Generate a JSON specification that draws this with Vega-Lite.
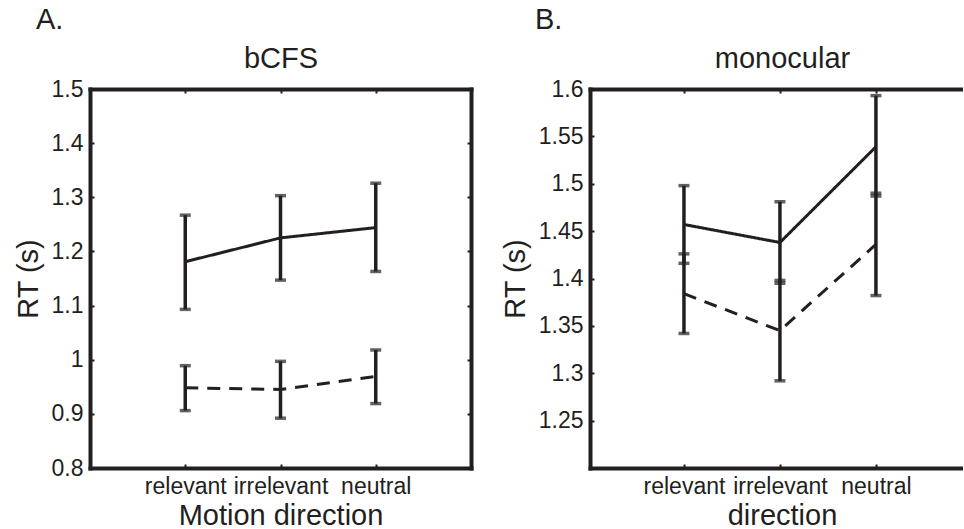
{
  "$schema": "https://vega.github.io/schema/vega-lite/v6.json",
  "padding": {"left": 14, "top": 6, "right": 0, "bottom": 0},
  "spacing": 29,
  "config": {
    "font": "Liberation Sans",
    "view": {"stroke": null},
    "axis": {
      "domainColor": "#231f20", "domainWidth": 4, "domainCap": "square",
      "tickColor": "#231f20", "tickSize": -4, "tickWidth": 2,
      "labelColor": "#231f20", "labelFontSize": 23, "labelPadding": 11,
      "labelOverlap": false, "labelBound": false, "labelAngle": 0,
      "titleColor": "#231f20", "titleFontSize": 29, "titleFontWeight": "normal",
      "grid": false
    },
    "title": {"fontSize": 29, "fontWeight": "normal", "color": "#231f20", "anchor": "start", "frame": "group"}
  },
  "datasets": {
    "rt": [
      {"panel": "bCFS", "series": "condition 1", "direction": "relevant", "mean": 1.181, "lo": 1.093, "hi": 1.267},
      {"panel": "bCFS", "series": "condition 1", "direction": "irrelevant", "mean": 1.225, "lo": 1.147, "hi": 1.303},
      {"panel": "bCFS", "series": "condition 1", "direction": "neutral", "mean": 1.244, "lo": 1.163, "hi": 1.326},
      {"panel": "bCFS", "series": "condition 2", "direction": "relevant", "mean": 0.948, "lo": 0.906, "hi": 0.989},
      {"panel": "bCFS", "series": "condition 2", "direction": "irrelevant", "mean": 0.945, "lo": 0.892, "hi": 0.997},
      {"panel": "bCFS", "series": "condition 2", "direction": "neutral", "mean": 0.969, "lo": 0.919, "hi": 1.018},
      {"panel": "monocular", "series": "condition 1", "direction": "relevant", "mean": 1.457, "lo": 1.416, "hi": 1.498},
      {"panel": "monocular", "series": "condition 1", "direction": "irrelevant", "mean": 1.438, "lo": 1.395, "hi": 1.481},
      {"panel": "monocular", "series": "condition 1", "direction": "neutral", "mean": 1.539, "lo": 1.487, "hi": 1.593},
      {"panel": "monocular", "series": "condition 2", "direction": "relevant", "mean": 1.384, "lo": 1.342, "hi": 1.426},
      {"panel": "monocular", "series": "condition 2", "direction": "irrelevant", "mean": 1.345, "lo": 1.292, "hi": 1.398},
      {"panel": "monocular", "series": "condition 2", "direction": "neutral", "mean": 1.436, "lo": 1.382, "hi": 1.49}
    ]
  },
  "hconcat": [
    {
      "width": 381, "height": 379,
      "title": {"text": "A.", "dx": -54, "offset": 9},
      "data": {"name": "rt"},
      "transform": [{"filter": "datum.panel == 'bCFS'"}],
      "resolve": {"axis": {"x": "independent", "y": "independent"}},
      "layer": [
        {
          "mark": {"type": "rule", "strokeWidth": 3.5, "color": "#231f20"},
          "encoding": {
            "x": {"field": "direction", "type": "nominal",
                  "scale": {"type": "point", "padding": 1, "domain": ["relevant", "irrelevant", "neutral"]},
                  "axis": {"orient": "bottom", "title": "Motion direction", "titlePadding": 3}},
            "y": {"field": "lo", "type": "quantitative",
                  "scale": {"domain": [0.8, 1.5], "nice": false, "zero": false},
                  "axis": {"orient": "left", "title": "RT (s)", "values": [0.8, 0.9, 1, 1.1, 1.2, 1.3, 1.4, 1.5], "format": ".1~f", "titlePadding": 8}},
            "y2": {"field": "hi"},
            "detail": {"field": "series"}
          }
        },
        {
          "mark": {"type": "tick", "size": 11, "thickness": 3.5, "color": "#231f20"},
          "encoding": {
            "x": {"field": "direction", "type": "nominal", "axis": null},
            "y": {"field": "lo", "type": "quantitative", "axis": null}
          }
        },
        {
          "mark": {"type": "tick", "size": 11, "thickness": 3.5, "color": "#231f20"},
          "encoding": {
            "x": {"field": "direction", "type": "nominal", "axis": null},
            "y": {"field": "hi", "type": "quantitative", "axis": null}
          }
        },
        {
          "mark": {"type": "line", "strokeWidth": 3, "color": "#231f20"},
          "encoding": {
            "x": {"field": "direction", "type": "nominal",
                  "axis": {"orient": "top", "title": "bCFS", "labels": false, "titlePadding": 15}},
            "y": {"field": "mean", "type": "quantitative",
                  "axis": {"orient": "right", "title": null, "labels": false, "values": [0.8, 0.9, 1, 1.1, 1.2, 1.3, 1.4, 1.5]}},
            "strokeDash": {"field": "series", "type": "nominal", "scale": {"domain": ["condition 1", "condition 2"], "range": [[1, 0], [13, 9]]}, "legend": null},
            "order": {"value": null}
          }
        }
      ]
    },
    {
      "width": 373, "height": 379,
      "title": {"text": "B.", "dx": -55, "offset": 9},
      "data": {"name": "rt"},
      "transform": [{"filter": "datum.panel == 'monocular'"}],
      "resolve": {"axis": {"x": "independent", "y": "independent"}},
      "layer": [
        {
          "mark": {"type": "rule", "strokeWidth": 3.5, "color": "#231f20"},
          "encoding": {
            "x": {"field": "direction", "type": "nominal",
                  "scale": {"type": "point", "padding": 0.943, "align": 0.519, "domain": ["relevant", "irrelevant", "neutral"]},
                  "axis": {"orient": "bottom", "title": "direction", "titlePadding": 3, "titleX": 192}},
            "y": {"field": "lo", "type": "quantitative",
                  "scale": {"domain": [1.2, 1.6], "nice": false, "zero": false},
                  "axis": {"orient": "left", "title": "RT (s)", "values": [1.25, 1.3, 1.35, 1.4, 1.45, 1.5, 1.55, 1.6], "format": ".2~f", "titlePadding": 8}},
            "y2": {"field": "hi"},
            "detail": {"field": "series"}
          }
        },
        {
          "mark": {"type": "tick", "size": 11, "thickness": 3.5, "color": "#231f20"},
          "encoding": {
            "x": {"field": "direction", "type": "nominal", "axis": null},
            "y": {"field": "lo", "type": "quantitative", "axis": null}
          }
        },
        {
          "mark": {"type": "tick", "size": 11, "thickness": 3.5, "color": "#231f20"},
          "encoding": {
            "x": {"field": "direction", "type": "nominal", "axis": null},
            "y": {"field": "hi", "type": "quantitative", "axis": null}
          }
        },
        {
          "mark": {"type": "line", "strokeWidth": 3, "color": "#231f20"},
          "encoding": {
            "x": {"field": "direction", "type": "nominal",
                  "axis": {"orient": "top", "title": "monocular", "labels": false, "titlePadding": 15, "titleX": 192}},
            "y": {"field": "mean", "type": "quantitative", "axis": null},
            "strokeDash": {"field": "series", "type": "nominal", "scale": {"domain": ["condition 1", "condition 2"], "range": [[1, 0], [13, 9]]}, "legend": null},
            "order": {"value": null}
          }
        }
      ]
    }
  ]
}
